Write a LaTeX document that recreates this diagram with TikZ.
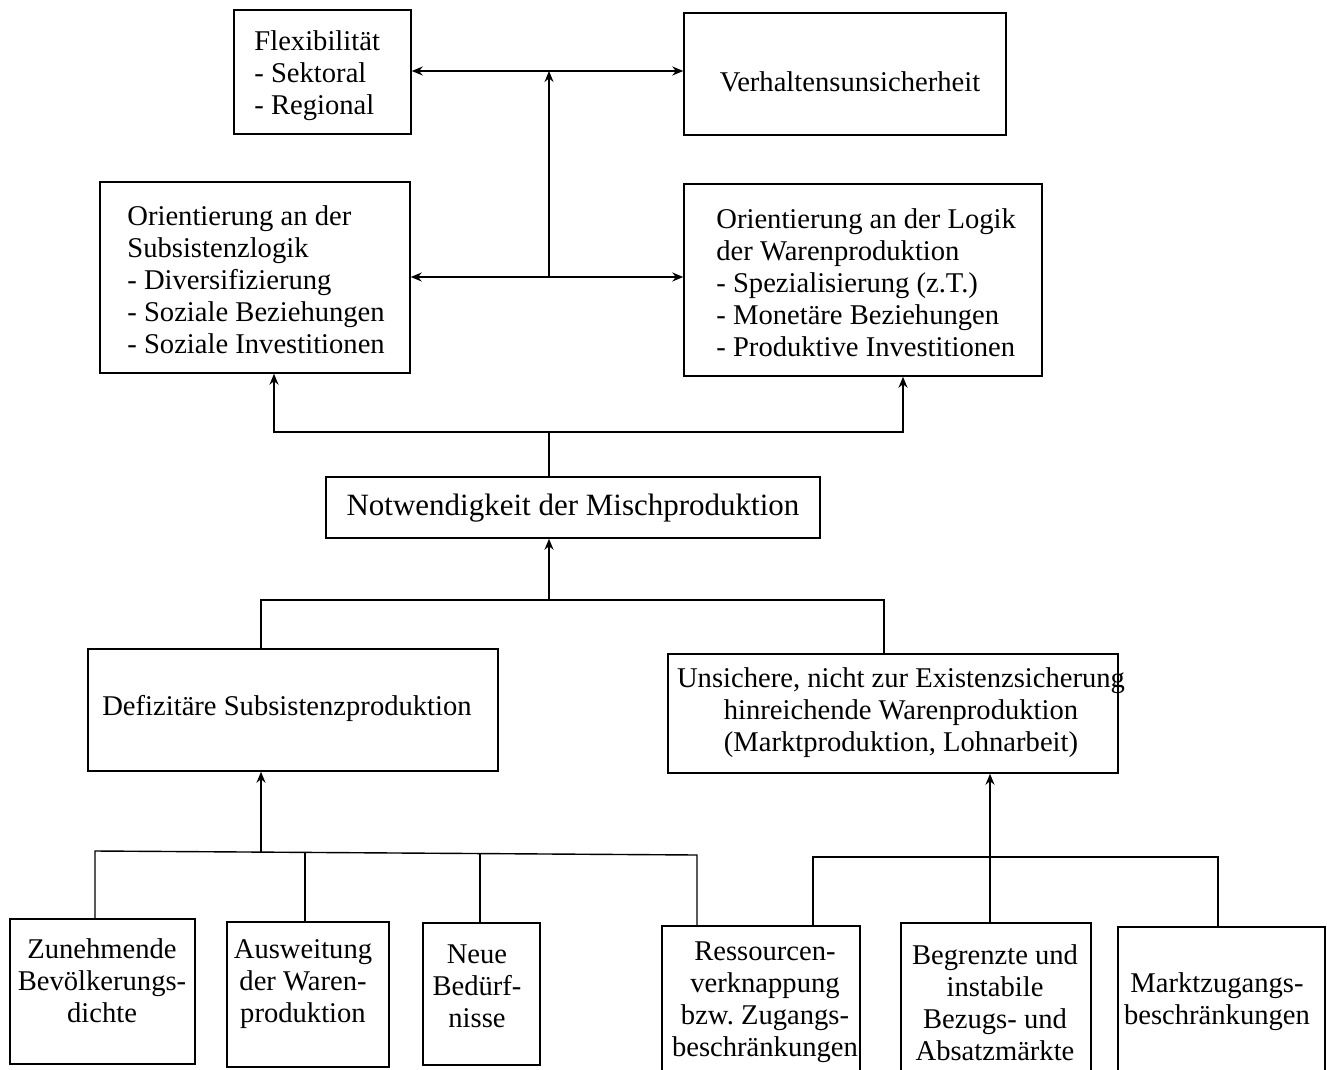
\documentclass[tikz,border=0pt]{standalone}
\usepackage{fontspec}
\setmainfont{Liberation Serif}
\usetikzlibrary{arrows.meta}
\frenchspacing
\begin{document}
\begin{tikzpicture}[x=0.5pt,y=-0.5pt,
  box/.style={draw, line width=0.75pt, inner sep=0pt},
  txt/.style={inner sep=0pt, font=\fontsize{14.3}{16}\selectfont},
  big/.style={inner sep=0pt, font=\fontsize{15.5}{18}\selectfont},
  ln/.style={line width=0.7pt},
  arr/.style={line width=0.7pt, -{Stealth[length=5.5pt,width=4.5pt]}},
  darr/.style={line width=0.7pt, {Stealth[length=5.5pt,width=4.5pt]}-{Stealth[length=5.5pt,width=4.5pt]}}]
\clip (0,0) rectangle (1327,1070);
\fill[white] (0,0) rectangle (1327,1070);
% boxes
\node[box, minimum width=88.5pt, minimum height=62pt] (flex) at (322.5,72) {};
\node[box, minimum width=161pt, minimum height=61pt] (verh) at (845,74) {};
\node[box, minimum width=155pt, minimum height=95.5pt] (orL) at (255,277.5) {};
\node[box, minimum width=179pt, minimum height=96pt] (orR) at (863,280) {};
\node[box, minimum width=247pt, minimum height=30.5pt] (notw) at (573,507.5) {};
\node[box, minimum width=205pt, minimum height=61pt] (defiz) at (293,710) {};
\node[box, minimum width=225pt, minimum height=59.5pt] (unsich) at (893,713.5) {};
\node[box, minimum width=92.5pt, minimum height=72.5pt] (zun) at (102.5,991.5) {};
\node[box, minimum width=81pt, minimum height=72.5pt] (ausw) at (308,994.5) {};
\node[box, minimum width=58.5pt, minimum height=71pt] (neue) at (481.5,994) {};
\node[box, minimum width=99pt, minimum height=77pt] (ress) at (761,1003) {};
\node[box, minimum width=95pt, minimum height=78.5pt] (begr) at (996,1001.5) {};
\node[box, minimum width=103.5pt, minimum height=76.5pt] (markt) at (1221.5,1003.5) {};
% texts
\node[txt, anchor=west, align=left] (flexT) at (254,76) {Flexibilität\\- Sektoral\\- Regional};
\node[txt] (verhT) at (850,82) {Verhaltensunsicherheit};
\node[txt, anchor=west, align=left] (orLT) at (127,280) {Orientierung an der\\Subsistenzlogik\\- Diversifizierung\\- Soziale Beziehungen\\- Soziale Investitionen};
\node[txt, anchor=west, align=left] (orRT) at (716,283) {Orientierung an der Logik\\der Warenproduktion\\- Spezialisierung (z.T.)\\- Monetäre Beziehungen\\- Produktive Investitionen};
\node[big] (notwT) at (573,508) {Notwendigkeit der Mischproduktion};
\node[txt] (defizT) at (287,708) {Defizitäre Subsistenzproduktion};
\node[txt, align=center] (unsichT) at (901,713) {Unsichere, nicht zur Existenzsicherung\\hinreichende Warenproduktion\\(Marktproduktion, Lohnarbeit)};
\node[txt, align=center] (zunT) at (102,981) {Zunehmende\\Bevölkerungs-\\dichte};
\node[txt, align=center] (auswT) at (303,984) {Ausweitung\\der Waren-\\produktion};
\node[txt, align=center] (neueT) at (477,986) {Neue\\Bedürf-\\nisse};
\node[txt, align=center] (ressT) at (765,1002) {Ressourcen-\\verknappung\\bzw.\ Zugangs-\\beschränkungen};
\node[txt, align=center] (begrT) at (995,1003) {Begrenzte und\\instabile\\Bezugs- und\\Absatzmärkte};
\node[txt, align=center] (marktT) at (1217,1002) {Marktzugangs-\\beschränkungen};
% junctions
\coordinate (h1) at (549,71);
\coordinate (h2) at (549,277);
\coordinate (h3) at (549,432);
\coordinate (aL) at (274,432);
\coordinate (aR) at (903,432);
\coordinate (h4) at (549,600);
\coordinate (bL) at (261,600);
\coordinate (bR) at (884,600);
\coordinate (h5) at (261,853);
\coordinate (c1) at (95,851);
\coordinate (c2) at (305,852);
\coordinate (c3) at (480,853);
\coordinate (c4) at (697,855);
\coordinate (d1) at (813,857);
\coordinate (d2) at (990,857);
\coordinate (d3) at (1218,857);
% connectors
\draw[darr] (flex.east |- h1) -- (verh.west |- h1);
\draw[arr] (h2) -- (h1);
\draw[darr] (orL.east |- h2) -- (orR.west |- h2);
\draw[arr] (h3) -| (orL.south -| aL);
\draw[arr] (h3) -| (orR.south -| aR);
\draw[ln] (h3) -- (notw.north -| h3);
\draw[arr] (h4) -- (notw.south -| h4);
\draw[ln] (defiz.north -| bL) -- (bL) -- (bR) -- (unsich.north -| bR);
\draw[arr] (h5) -- (defiz.south -| h5);
\draw[ln] (zun.north -| c1) -- (c1) -- (c4) -- (ress.north -| c4);
\draw[ln] (c2) -- (ausw.north -| c2);
\draw[ln] (c3) -- (neue.north -| c3);
\draw[ln] (ress.north -| d1) -- (d1) -- (d3) -- (markt.north -| d3);
\draw[arr] (begr.north -| d2) -- (unsich.south -| d2);
\end{tikzpicture}
\end{document}
